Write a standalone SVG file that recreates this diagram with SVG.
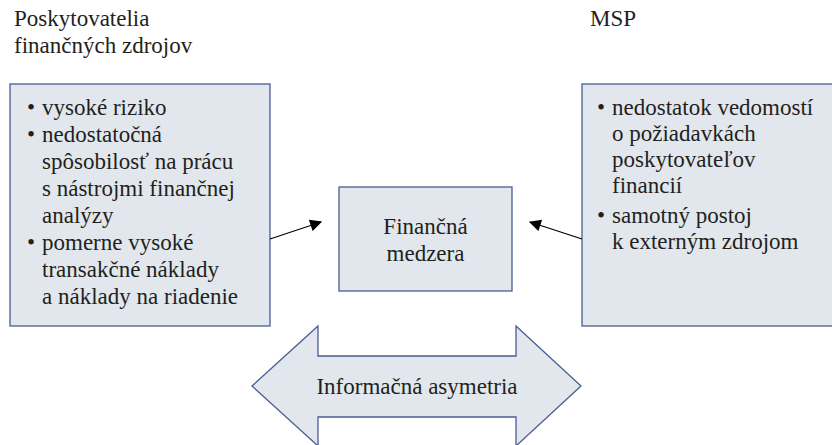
<svg xmlns="http://www.w3.org/2000/svg" width="832" height="445" viewBox="0 0 832 445">
<style>
  .t { font-family: 'Liberation Serif', 'DejaVu Serif', serif; font-size: 23px; fill: #231f20; }
  .box { fill: #e2e7ed; stroke: #4a5c93; stroke-width: 1.3; }
  .conn { stroke: #000; stroke-width: 1.3; fill: none; }
</style>
<defs>
  <marker id="ahb" viewBox="0 0 10 10" refX="9" refY="5" markerWidth="14" markerHeight="12" markerUnits="userSpaceOnUse" orient="auto">
    <path d="M0,0 L10,5 L0,10 z" fill="#000"/>
  </marker>
</defs>

<g id="title-left" class="t" font-family="Liberation Serif, serif">
  <text x="14" y="26">Poskytovatelia</text>
  <text x="14" y="53">finančných zdrojov</text>
</g>
<g id="title-right" class="t" font-family="Liberation Serif, serif">
  <text x="590" y="26">MSP</text>
</g>

<g id="left-box" class="t" font-family="Liberation Serif, serif">
  <rect class="box" x="10" y="84" width="260" height="242"/>
  <text x="27" y="115">•</text><text x="42" y="115">vysoké riziko</text>
  <text x="27" y="142">•</text><text x="42" y="142">nedostatočná</text>
  <text x="42" y="169">spôsobilosť na prácu</text>
  <text x="42" y="196">s nástrojmi finančnej</text>
  <text x="42" y="223">analýzy</text>
  <text x="27" y="250">•</text><text x="42" y="250">pomerne vysoké</text>
  <text x="42" y="277">transakčné náklady</text>
  <text x="42" y="304">a náklady na riadenie</text>
</g>

<g id="right-box" class="t" font-family="Liberation Serif, serif">
  <rect class="box" x="582" y="84" width="260" height="242"/>
  <text x="597" y="115">•</text><text x="612" y="115">nedostatok vedomostí</text>
  <text x="612" y="141">o požiadavkách</text>
  <text x="612" y="167">poskytovateľov</text>
  <text x="612" y="193">financií</text>
  <text x="597" y="223">•</text><text x="612" y="223">samotný postoj</text>
  <text x="612" y="249">k externým zdrojom</text>
</g>

<g id="center-box" class="t" font-family="Liberation Serif, serif">
  <rect class="box" x="339" y="187" width="173" height="104"/>
  <text x="425.5" y="234" text-anchor="middle">Finančná</text>
  <text x="425.5" y="261" text-anchor="middle">medzera</text>
</g>

<g id="double-arrow" class="t" font-family="Liberation Serif, serif">
  <polygon class="box" points="252,386 318,326 318,356 516,356 516,326 581,386 516,446 516,417 318,417 318,446"/>
  <text x="417" y="394" text-anchor="middle">Informačná asymetria</text>
</g>

<g id="connectors">
  <line class="conn" x1="270" y1="239" x2="321" y2="222" marker-end="url(#ahb)"/>
  <line class="conn" x1="582" y1="239" x2="530" y2="222" marker-end="url(#ahb)"/>
</g>
</svg>
